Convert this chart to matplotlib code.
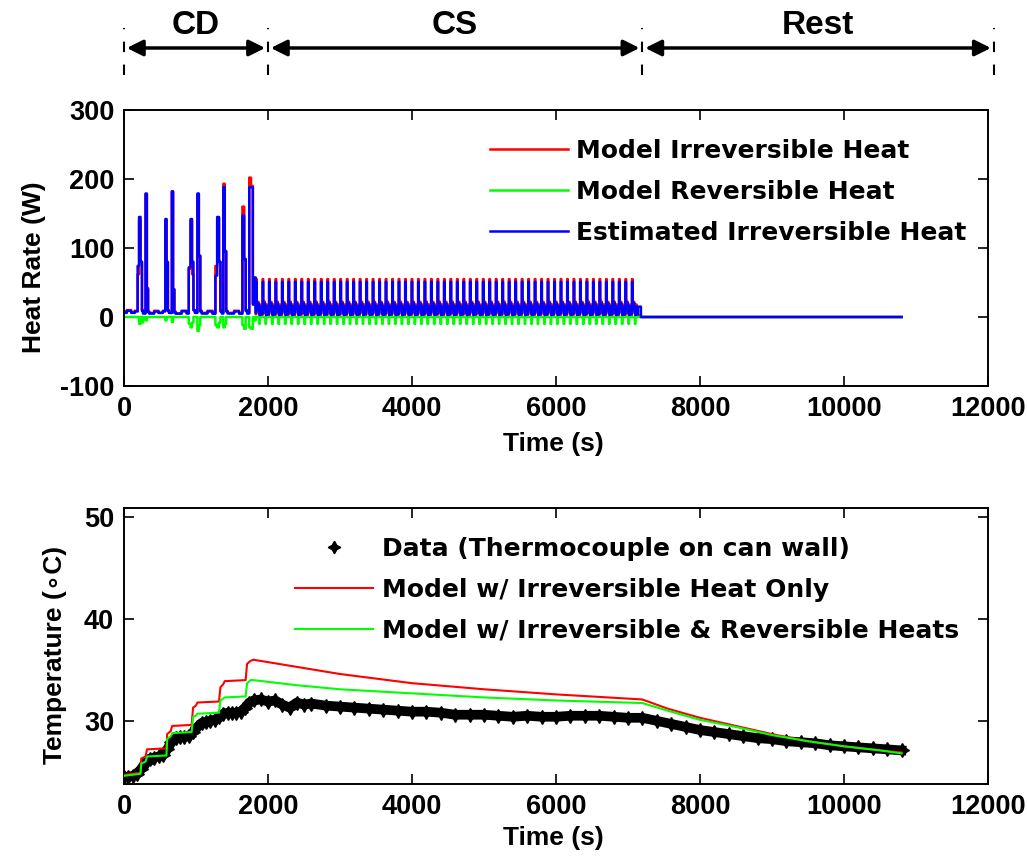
import numpy as np
import matplotlib
matplotlib.use('Agg')
import matplotlib.pyplot as plt
from matplotlib.transforms import blended_transform_factory

plt.rcParams['font.family'] = ['Liberation Sans', 'DejaVu Sans']
plt.rcParams['font.weight'] = 'bold'
plt.rcParams['axes.unicode_minus'] = False

# ---- top panel: heat rate, charge depleting part (step breakpoints)
cd_t = [0, 40, 100, 150, 190, 210, 230, 250, 265, 300,
        318, 335, 350, 420, 480, 540, 575, 592, 610, 625,
        665, 682, 700, 720, 800, 870, 900, 925, 945, 965,
        985, 1020, 1040, 1060, 1080, 1160, 1230, 1270, 1295, 1320,
        1340, 1360, 1380, 1400, 1420, 1440, 1530, 1600, 1645, 1670,
        1690, 1710, 1740, 1765, 1790, 1810]
cd_irr = [8, 10, 7, 9, 62, 140, 80, 10, 6, 178,
          42, 8, 6, 9, 6, 8, 140, 80, 10, 6,
          182, 40, 8, 5, 8, 6, 70, 140, 62, 10,
          7, 178, 88, 9, 6, 9, 5, 74, 144, 80,
          9, 6, 193, 96, 9, 6, 9, 5, 160, 84,
          10, 6, 202, 190, 20, 57]
cd_est = [6, 9, 6, 8, 74, 145, 80, 9, 5, 179,
          40, 7, 5, 8, 6, 9, 142, 79, 9, 6,
          182, 40, 6, 5, 9, 5, 72, 142, 80, 10,
          6, 179, 89, 8, 5, 8, 5, 60, 145, 80,
          8, 5, 188, 95, 8, 5, 8, 5, 147, 84,
          9, 5, 188, 188, 18, 57]
cd_rev = [0, 0, 0, 0, 0, -10, 0, -8, 0, -5,
          0, 0, 0, 0, 0, 0, -5, 0, 0, 0,
          -7, 0, 0, 0, 0, 0, -10, -15, -8, 0,
          0, -20, -12, 0, 0, 0, 0, -12, -15, -8,
          0, 0, -15, -10, 0, 0, 0, 0, -12, -17,
          0, 0, -15, -17, 0, -5]

# charge sustaining: one repeated drive cycle
cs_start = 1830
cs_period = 90
cs_cycles = 59
cyc_t = [0, 6, 14, 22, 30, 38, 46, 54, 62, 70, 78]
cyc_irr = [4, 55, 22, 10, 22, 14, 5, 2, 18, 6, 2]
cyc_est = [6, 51, 20, 12, 20, 16, 6, 3, 15, 8, 4]
cyc_rev = [0, 0, 0, 0, 0, 0, -10, 0, 0, 0, 0]

# rest
rest_t = [7140, 7180, 10800]
rest_irr = [2, 0, 0]
rest_est = [15, 0, 0]
rest_rev = [0, 0, 0]

# ---- bottom panel: temperature
data_t = [0, 60, 120, 180, 240, 300, 360, 420, 480, 540, 600, 660, 720, 780, 840,
          900, 960, 1020, 1080, 1140, 1200, 1260, 1320, 1380, 1440, 1500, 1560,
          1620, 1680, 1740, 1800, 1900, 2000, 2100, 2200, 2300, 2400, 2500, 2600,
          2800, 3000, 3200, 3400, 3600, 3800, 4000, 4200, 4400, 4600, 4800, 5000,
          5200, 5400, 5600, 5800, 6000, 6200, 6400, 6600, 6800, 7000, 7200, 7400,
          7600, 7800, 8000, 8200, 8400, 8600, 8800, 9000, 9200, 9400, 9600, 9800,
          10000, 10200, 10400, 10600, 10800]
data_T = [24.5, 24.5, 24.6, 24.8, 25.3, 25.9, 26.3, 26.4, 26.5, 26.6, 27.2, 27.9,
          28.3, 28.4, 28.4, 28.5, 28.9, 29.4, 29.8, 29.9, 30.0, 30.1, 30.4, 30.7,
          30.8, 30.8, 30.8, 30.9, 31.3, 31.8, 32.0, 32.1, 31.9, 32.0, 31.6, 31.3,
          31.8, 31.6, 31.7, 31.5, 31.4, 31.3, 31.2, 31.1, 31.0, 30.9, 30.9, 30.8,
          30.6, 30.6, 30.6, 30.5, 30.4, 30.5, 30.4, 30.4, 30.5, 30.5, 30.5, 30.4,
          30.3, 30.3, 30.0, 29.7, 29.4, 29.1, 28.9, 28.7, 28.5, 28.3, 28.2, 28.0,
          27.9, 27.8, 27.6, 27.5, 27.4, 27.3, 27.2, 27.1]

model_t = [0, 230, 240, 300, 320, 590, 600, 650, 670, 940, 960, 1000, 1020, 1320,
           1340, 1380, 1400, 1690, 1710, 1760, 1800, 2400, 3000, 4000, 5000, 6000,
           7200, 7550, 8000, 8500, 9000, 9500, 10000, 10500, 10800]
irr_T = [24.7, 24.9, 26.3, 26.5, 27.2, 27.3, 28.7, 29.0, 29.5, 29.6, 31.3, 31.5,
         31.8, 31.9, 33.3, 33.6, 33.9, 34.0, 35.6, 35.9, 36.0, 35.3, 34.6, 33.7,
         33.1, 32.6, 32.1, 31.2, 30.3, 29.5, 28.7, 28.0, 27.5, 27.1, 26.9]
both_T = [24.6, 24.8, 25.8, 26.0, 26.5, 26.6, 28.2, 28.5, 28.8, 28.9, 30.4, 30.5,
          30.7, 30.8, 32.0, 32.2, 32.3, 32.4, 33.7, 34.0, 34.0, 33.5, 33.1, 32.7,
          32.3, 32.0, 31.75, 31.0, 30.1, 29.4, 28.6, 28.0, 27.5, 27.1, 26.8]

phase_edges = [0, 2000, 7200, 12080]
phase_names = ['CD', 'CS', 'Rest']


def build(cd, cyc, rest):
    out = list(cd)
    for k in range(cs_cycles):
        out += list(cyc)
    return out + list(rest)


cs_t = []
for k in range(cs_cycles):
    cs_t += [cs_start + k * cs_period + o for o in cyc_t]
t_all = cd_t + cs_t + rest_t
irr_all = build(cd_irr, cyc_irr, rest_irr)
est_all = build(cd_est, cyc_est, rest_est)
rev_all = build(cd_rev, cyc_rev, rest_rev)

fig = plt.figure(figsize=(10.27, 8.57), dpi=100)
ax1 = fig.add_axes([0.1207, 0.5496, 0.8413, 0.322])
ax2 = fig.add_axes([0.1207, 0.0852, 0.8413, 0.322])

ax1.plot(t_all, irr_all, color='#ff0000', lw=1.8, drawstyle='steps-post', label='Model Irreversible Heat')
ax1.plot(t_all, rev_all, color='#00ff00', lw=1.8, drawstyle='steps-post', label='Model Reversible Heat')
ax1.plot(t_all, est_all, color='#0000ff', lw=1.8, drawstyle='steps-post', label='Estimated Irreversible Heat')
ax1.set_xlim(0, 12000)
ax1.set_ylim(-100, 300)
ax1.set_yticks([-100, 0, 100, 200, 300])
ax1.set_xlabel('Time (s)', fontsize=19, fontweight='bold')
ax1.set_ylabel('Heat Rate (W)', fontsize=19, fontweight='bold')
ax1.xaxis.set_label_coords(0.497, -0.165)
ax1.yaxis.set_label_coords(-0.09, 0.43)

ax2.plot(data_t, data_T, color='black', lw=7, marker=(4, 1, 0), ms=10, zorder=2)
ax2.plot([], [], color='black', ls='none', marker=(4, 1, 0), ms=9, label='Data (Thermocouple on can wall)')
ax2.plot(model_t, irr_T, color='#ff0000', lw=1.5, label='Model w/ Irreversible Heat Only', zorder=3)
ax2.plot(model_t, both_T, color='#00ff00', lw=1.5, label='Model w/ Irreversible & Reversible Heats', zorder=4)
ax2.set_xlim(0, 12000)
ax2.set_ylim(23.8, 50.9)
ax2.set_yticks([30, 40, 50])
ax2.set_xlabel('Time (s)', fontsize=19, fontweight='bold')
ax2.set_ylabel('Temperature (\u2218C)', fontsize=19, fontweight='bold')
ax2.xaxis.set_label_coords(0.497, -0.152)
ax2.yaxis.set_label_coords(-0.066, 0.467)

for ax in (ax1, ax2):
    ax.tick_params(direction='in', top=True, right=True, length=7, width=1.2,
                   labelsize=19.5, pad=7)
    for lab in ax.get_xticklabels() + ax.get_yticklabels():
        lab.set_fontweight('bold')
    for sp in ax.spines.values():
        sp.set_linewidth(1.4)

leg_font = {'family': 'DejaVu Sans', 'weight': 'bold', 'size': 18}
ax1.legend(loc='upper left', bbox_to_anchor=(490 / 1027, 1 - 139 / 857),
           bbox_transform=fig.transFigure, frameon=False, prop=leg_font,
           handlelength=3.1, handletextpad=0.36, labelspacing=0.68,
           borderpad=0, borderaxespad=0)
ax2.legend(loc='upper left', bbox_to_anchor=(295 / 1027, 1 - 537 / 857),
           bbox_transform=fig.transFigure, frameon=False, prop=leg_font,
           handlelength=3.1, handletextpad=0.36, labelspacing=0.68,
           borderpad=0, borderaxespad=0)

# phase annotations above the top panel
tr = blended_transform_factory(ax1.transData, fig.transFigure)
for b in phase_edges:
    ax1.plot([b, b], [0.912, 0.967], color='black', lw=1.5, ls=(0, (5, 6)),
             transform=tr, clip_on=False)
for i, name in enumerate(phase_names):
    a, b = phase_edges[i], phase_edges[i + 1]
    ax1.annotate('', xy=(b - 40, 0.944), xytext=(a + 40, 0.944),
                 xycoords=tr, textcoords=tr,
                 arrowprops=dict(arrowstyle='<|-|>', color='black', lw=2.5,
                                 mutation_scale=24, shrinkA=0, shrinkB=0))
    fig.text((a + b) / 2, 0.97, name, transform=tr, ha='center', va='center',
             fontsize=24, fontweight='bold',
             family=['Liberation Sans Narrow', 'Liberation Sans'])

fig.savefig('out.png', dpi=100)
